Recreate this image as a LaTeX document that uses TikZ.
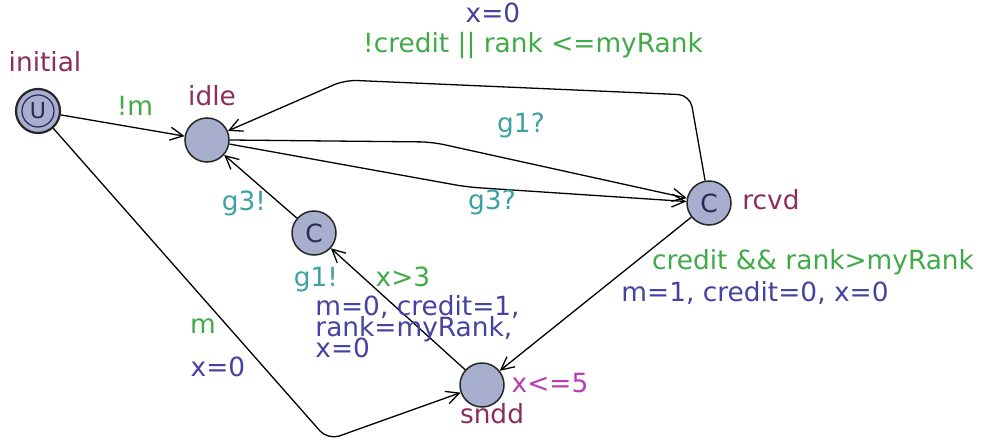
\documentclass[tikz,border=0pt]{standalone}
\usepackage{fontspec}
\setmainfont{DejaVu Sans}
\usetikzlibrary{arrows.meta, positioning, calc}
\definecolor{locfill}{RGB}{168, 174, 206}
\definecolor{locname}{RGB}{140, 45, 95}
\definecolor{guardgreen}{RGB}{64, 170, 72}
\definecolor{syncteal}{RGB}{60, 160, 165}
\definecolor{updblue}{RGB}{70, 66, 160}
\definecolor{invpink}{RGB}{185, 60, 180}
\definecolor{markblue}{RGB}{40, 40, 90}
\newcommand{\tightlines}{\fontsize{13.2}{10.5}\selectfont\lineskiplimit=-20pt\relax}

\begin{document}
\begin{tikzpicture}[
		x=0.5pt, y=-0.5pt,
		font=\fontsize{13.2}{10.5}\selectfont,
		loc/.style={circle, draw=black!85, fill=locfill, line width=0.75pt, minimum size=22pt, inner sep=0pt, font=\fontsize{12.5}{12.5}\selectfont, text=markblue},
		lbl/.style={inner sep=0pt, text height=0.75em, text depth=0.25em},
		locnm/.style={lbl, text=locname},
		guard/.style={lbl, text=guardgreen},
		sync/.style={lbl, text=syncteal},
		upd/.style={lbl, text=updblue},
		updblock/.style={inner sep=0pt, text=updblue, align=left, anchor=base west, font=\tightlines},
		inv/.style={lbl, text=invpink},
		trans/.style={-{Straight Barb[length=6.5pt, width=6.5pt]}, line width=0.65pt, rounded corners=6pt}
		]
		\useasboundingbox (0,0) rectangle (984,444);
		% locations
		\node[loc, line width=1.1pt] (init) at (38,111) {};
		\node[circle, draw=markblue, line width=0.6pt, minimum size=16pt, inner sep=0pt] (initring) at (init) {};
		\node[text=markblue, inner sep=0pt, font=\fontsize{11}{11}\selectfont] (initmark) at (init) {U};
		\node[loc] (idle) at (207,140) {};
		\node[loc] (comm) at (314,233) {C};
		\node[loc] (rcvd) at (709,203) {C};
		\node[loc] (sndd) at (482,385) {};
		
		% location names and invariant
		\node[locnm] (initname) at (45,67) {initial};
		\node[locnm] (idlename) at (212,100) {idle};
		\node[locnm] (rcvdname) at (771,204) {rcvd};
		\node[locnm] (snddname) at (492,418) {sndd};
		\node[inv] (snddinv) at (550,387) {x<=5};
		
		% nails
		\coordinate (n1) at (328,440);
		\coordinate (n2) at (432,142);
		\coordinate (n3) at (467,187);
		\coordinate (n4) at (690,95);
		\coordinate (n5) at (345,80);
		
		% edges
		\draw[trans] (init) -- (idle);
		\draw[trans] (init) -- (n1) -- (sndd);
		\draw[trans] (idle.east) -- (n2) -- (rcvd);
		\draw[trans] (idle) -- (n3) -- (rcvd);
		\draw[trans] (rcvd) -- (n4) -- (n5) -- (idle);
		\draw[trans] (rcvd) -- (sndd);
		\draw[trans] (sndd) -- (comm);
		\draw[trans] (comm) -- (idle);
		
		% edge labels
		\node[guard] (l1) at (135,111) {!m};
		\node[guard] (l2) at (203,328) {m};
		\node[upd] (l3) at (218,371) {x=0};
		\node[sync] (l4) at (521,128) {g1?};
		\node[sync] (l5) at (492,204) {g3?};
		\node[upd] (l6) at (493,18) {x=0};
		\node[guard] (l7) at (533,48) {!credit || rank <=myRank};
		\node[guard] (l8) at (813,264) {credit \&\& rank>myRank};
		\node[upd] (l9) at (755,296) {m=1, credit=0, x=0};
		\node[sync] (l10) at (316,281) {g1!};
		\node[guard] (l11) at (403,281) {x>3};
		\node[updblock] (l12) at (315,357) {m=0, credit=1,\\rank=myRank,\\x=0};
		\node[sync] (l13) at (244,205) {g3!};
	\end{tikzpicture}
\end{document}
